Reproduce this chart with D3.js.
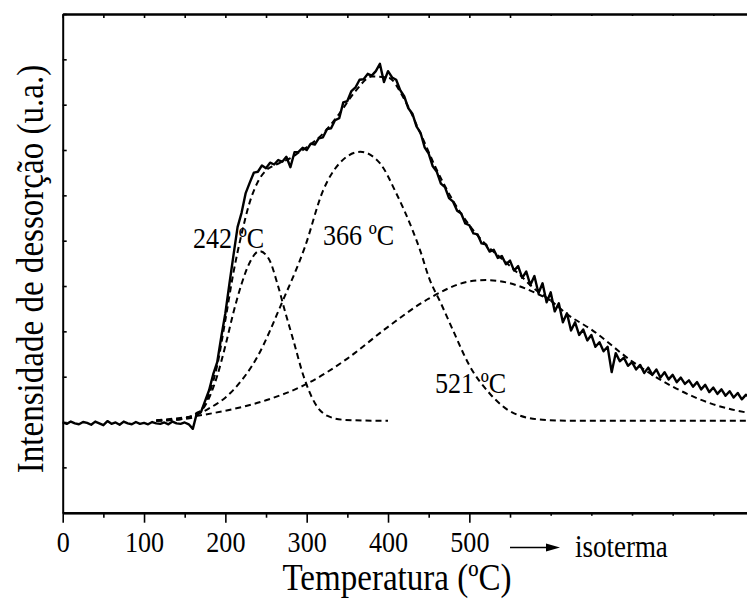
<!DOCTYPE html>
<html>
<head>
<meta charset="utf-8">
<script src="https://cdn.jsdelivr.net/npm/d3@7"></script>
<style>
  html, body { margin: 0; padding: 0; background: #fff; }
  svg { display: block; }
  svg text { font-family: 'Liberation Serif', 'Times New Roman', serif !important; fill: #000; }
</style>
</head>
<body>
<div id="chart"></div>
<script>
// TPD curve, measured signal (every 5 ºC from 0 to 845)
const tempExp = d3.range(0, 850, 5);
const sigExp = [
  1.99,1.96,2.01,1.97,1.95,2.00,1.98,1.94,2.01,1.97,
  1.93,2.02,1.96,1.99,1.94,2.01,1.97,1.95,2.00,1.96,
  1.98,1.95,2.00,1.97,1.96,1.99,1.95,2.01,1.97,1.96,
  1.99,1.95,
  1.85,2.20,2.22,2.46,2.70,3.05,3.32,3.88,4.40,5.05,
  5.68,6.30,6.62,7.05,7.28,7.50,7.52,7.66,7.60,7.72,
  7.68,7.78,7.74,7.85,7.62,7.95,7.96,8.05,8.00,8.14,
  8.12,8.26,8.28,8.46,8.48,8.66,8.70,9.05,9.08,9.30,
  9.38,9.55,9.56,9.68,9.64,9.74,9.90,9.50,9.74,9.60,
  9.55,9.32,9.18,8.92,8.80,8.52,8.38,8.06,7.92,7.64,
  7.52,7.26,7.18,6.94,6.86,6.66,6.60,6.38,6.34,6.16,
  6.14,5.94,5.92,5.76,5.80,5.62,5.66,5.48,5.56,5.34,
  5.44,5.18,5.32,5.02,5.22,4.84,5.06,4.64,4.86,4.44,
  4.62,4.20,4.40,4.02,4.20,3.92,4.04,3.80,3.92,3.66,
  3.76,3.56,3.66,3.10,3.52,3.34,3.42,3.24,3.32,3.16,
  3.26,3.08,3.20,3.04,3.16,2.98,3.10,2.94,3.04,2.88,
  2.98,2.84,2.92,2.78,2.88,2.72,2.82,2.66,2.76,2.62,
  2.72,2.58,2.68,2.54,2.64,2.50,2.60,2.54
];

// fitted peaks
const t242 = [115,140,160,175,190,200,210,220,230,242,254,264,274,284,296,310,325,345,380,400];
const v242 = [2.03,2.05,2.15,2.36,3.02,3.68,4.42,5.05,5.52,5.77,5.58,5.05,4.40,3.78,3.02,2.42,2.14,2.05,2.03,2.03];

const t366 = [115,150,177,210,240,270,298,320,340,366,390,410,430,440,450,465,480,500,525,555,590,620,850];
const v366 = [2.03,2.08,2.27,2.71,3.46,4.65,5.87,7.10,7.70,7.96,7.71,7.05,6.24,5.76,5.20,4.62,4.02,3.25,2.63,2.19,2.05,2.03,2.03];

// right tail of this peak coincides with the sum curve
const t521 = [115,150,200,250,300,350,400,450,500,521,550,580,600];
const v521 = [2.04,2.10,2.25,2.48,2.84,3.40,4.10,4.72,5.10,5.13,5.06,4.86,4.68];

// sum of the fitted peaks
const tSum = [115,130,150,160,170,180,190,200,210,220,230,240,250,260,270,280,290,300,320,340,360,380,400,420,440,460,480,500,520,540,560,580,600,620,650,700,750,800,850];
const vSum = [2.03,2.05,2.07,2.10,2.25,2.62,3.25,4.25,5.30,6.15,6.85,7.30,7.55,7.66,7.74,7.82,7.94,8.06,8.36,8.80,9.30,9.62,9.60,9.12,8.36,7.56,6.88,6.34,5.92,5.60,5.28,4.94,4.68,4.38,4.04,3.34,2.78,2.39,2.18];

const xTickLabels = [0, 100, 200, 300, 400, 500];
const peakLabels = ["242 ºC", "366 ºC", "521 ºC"];

var width = 747, height = 599;
var squish = "scale(0.87,1)";
var serif = "'Liberation Serif', 'Times New Roman', serif";

var svg = d3.select("#chart").append("svg")
  .attr("width", width)
  .attr("height", height);

var x = d3.scaleLinear().domain([0, 850]).range([62.7, 62.7 + 850 * 0.8133]);
var y = d3.scaleLinear().domain([0, 11]).range([512.7, 14]);

// axes
var bottomMajor = svg.append("g")
  .attr("transform", "translate(0," + y(0) + ")")
  .call(d3.axisBottom(x).tickValues(xTickLabels).tickSize(10).tickSizeOuter(0));
bottomMajor.attr("font-family", serif);
bottomMajor.selectAll("text")
  .attr("y", 39).attr("dy", 0)
  .attr("transform", squish)
  .attr("font-family", serif)
  .style("font-size", "30px");

svg.append("g")
  .attr("transform", "translate(0," + y(0) + ")")
  .call(d3.axisBottom(x).tickValues(d3.range(50, 600, 100)).tickSize(5).tickFormat("").tickSizeOuter(0));
svg.append("g")
  .attr("transform", "translate(0," + y(0) + ")")
  .call(d3.axisBottom(x).tickValues(d3.range(600, 900, 50)).tickSize(3).tickFormat("").tickSizeOuter(0));

svg.append("g")
  .attr("transform", "translate(0," + y(11) + ")")
  .call(d3.axisTop(x).tickValues(d3.range(0, 600, 50)).tickSize(-4).tickFormat("").tickSizeOuter(0));
svg.append("g")
  .attr("transform", "translate(0," + y(11) + ")")
  .call(d3.axisTop(x).tickValues(d3.range(600, 900, 50)).tickSize(-2).tickFormat("").tickSizeOuter(0));

svg.append("g")
  .attr("transform", "translate(" + x(0) + ",0)")
  .call(d3.axisLeft(y).tickValues(d3.range(0, 12, 1)).tickSize(-4).tickFormat("").tickSizeOuter(0));

svg.selectAll(".domain").attr("stroke", "#000").attr("stroke-width", 2);
svg.selectAll(".tick line").attr("stroke", "#000").attr("stroke-width", 1.6);

// curves
var line = d3.line()
  .x(d => x(d[0]))
  .y(d => y(d[1]));
var smooth = d3.line()
  .x(d => x(d[0]))
  .y(d => y(d[1]))
  .curve(d3.curveMonotoneX);

var fits = [[t242, v242], [t366, v366], [t521, v521], [tSum, vSum]];
fits.forEach(function(f) {
  svg.append("path")
    .datum(f[0].map((t, i) => [t, f[1][i]]))
    .attr("d", smooth)
    .attr("fill", "none")
    .attr("stroke", "#000")
    .attr("stroke-width", 2)
    .attr("stroke-dasharray", "6,4");
});

svg.append("path")
  .datum(tempExp.map((t, i) => [t, sigExp[i]]))
  .attr("d", line)
  .attr("fill", "none")
  .attr("stroke", "#000")
  .attr("stroke-width", 2.4)
  .attr("stroke-linejoin", "round");

// peak labels
var labelPos = [[193, 248], [323, 245], [435, 393]];
peakLabels.forEach(function(s, i) {
  svg.append("text")
    .attr("transform", "translate(" + labelPos[i][0] + "," + labelPos[i][1] + ") " + squish)
    .attr("font-family", serif)
    .style("font-size", "30px")
    .text(s);
});

// isoterma arrow
svg.append("line")
  .attr("x1", 510).attr("x2", 549)
  .attr("y1", 547.5).attr("y2", 547.5)
  .attr("stroke", "#000").attr("stroke-width", 1.6);
svg.append("path")
  .attr("d", "M546,543.5 L560,547.5 L546,551.5 Z")
  .attr("fill", "#000");
svg.append("text")
  .attr("transform", "translate(575,557) " + squish)
  .attr("font-family", serif)
  .style("font-size", "31px")
  .text("isoterma");

// axis titles
svg.append("text")
  .attr("transform", "translate(397,590) " + squish)
  .attr("text-anchor", "middle")
  .attr("font-family", serif)
  .style("font-size", "38px")
  .text("Temperatura (ºC)");

svg.append("text")
  .attr("transform", "translate(43,269) rotate(-90) " + squish)
  .attr("text-anchor", "middle")
  .attr("font-family", serif)
  .style("font-size", "38px")
  .text("Intensidade de dessorção (u.a.)");
</script>
</body>
</html>
